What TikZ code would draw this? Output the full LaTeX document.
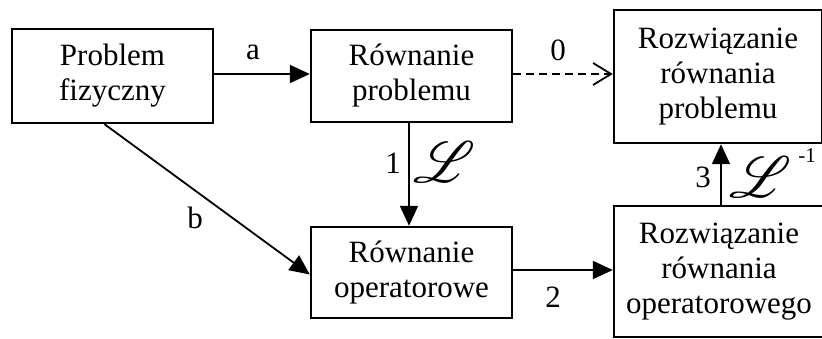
\documentclass[tikz,border=0pt]{standalone}
\usepackage{fontspec}
\setmainfont{Liberation Serif}
\usepackage{mathrsfs}
\usepackage{graphicx}
\usetikzlibrary{arrows.meta,calc}
\newcommand{\bigL}{\scalebox{2.8}{$\mathscr{L}$}}
\begin{document}
\begin{tikzpicture}[x=1pt,y=-1pt,
  box/.style={draw, line width=2.4pt, rectangle, inner sep=0pt, align=center,
    font=\fontsize{31}{35}\selectfont},
  lbl/.style={font=\fontsize{31}{35}\selectfont, inner sep=0pt},
  scr/.style={font=\fontsize{20}{20}\selectfont, inner sep=0pt},
  arr/.style={line width=1.8pt, -{Triangle[length=20pt,width=18pt]}},
  darr/.style={line width=1.8pt, dash pattern=on 8pt off 5pt, -{Straight Barb[length=18pt,width=22pt,line width=1.8pt]}}
]
\useasboundingbox (0,0) rectangle (822,339);
\node[box, minimum width=201pt, minimum height=94pt] (pf) at (112.5,76) {Problem\\fizyczny};
\node[box, minimum width=201pt, minimum height=92pt] (rp) at (411.5,76) {Równanie\\problemu};
\node[box, minimum width=208pt, minimum height=133pt] (rrp) at (718,76.5) {Rozwiązanie\\równania\\problemu};
\node[box, minimum width=201pt, minimum height=91pt] (ro) at (411.5,272.5) {Równanie\\operatorowe};
\node[box, minimum width=210pt, minimum height=131pt] (rro) at (719,271.5) {Rozwiązanie\\równania\\operatorowego};

\draw[arr] (pf.east |- 0,74) -- (rp.west |- 0,74);
\draw[darr] (rp.east |- 0,74) -- (rrp.west |- 0,74);
\draw[arr] (rp.south -| 409,0) -- (ro.north -| 409,0);
\draw[arr] ([xshift=-8pt]pf.south) -- ([yshift=-2pt]ro.west);
\draw[arr] (ro.east |- 0,270) -- (rro.west |- 0,270);
\draw[arr] (rro.north -| 721,0) -- (rrp.south -| 721,0);

\node[lbl] (la) at (253,52) {a};
\node[lbl] (l0) at (558,50) {0};
\node[lbl] (l1) at (393,163) {1};
\node[scr] (L1) at (444,162) {\bigL};
\node[lbl] (lb) at (195,218) {b};
\node[lbl] (l2) at (553,297) {2};
\node[lbl] (l3) at (703,177) {3};
\node[scr] (L3) at (760,177) {\bigL};
\node[font=\fontsize{21}{21}\selectfont, inner sep=0pt] (lm) at (807,156) {-1};
\end{tikzpicture}
\end{document}
